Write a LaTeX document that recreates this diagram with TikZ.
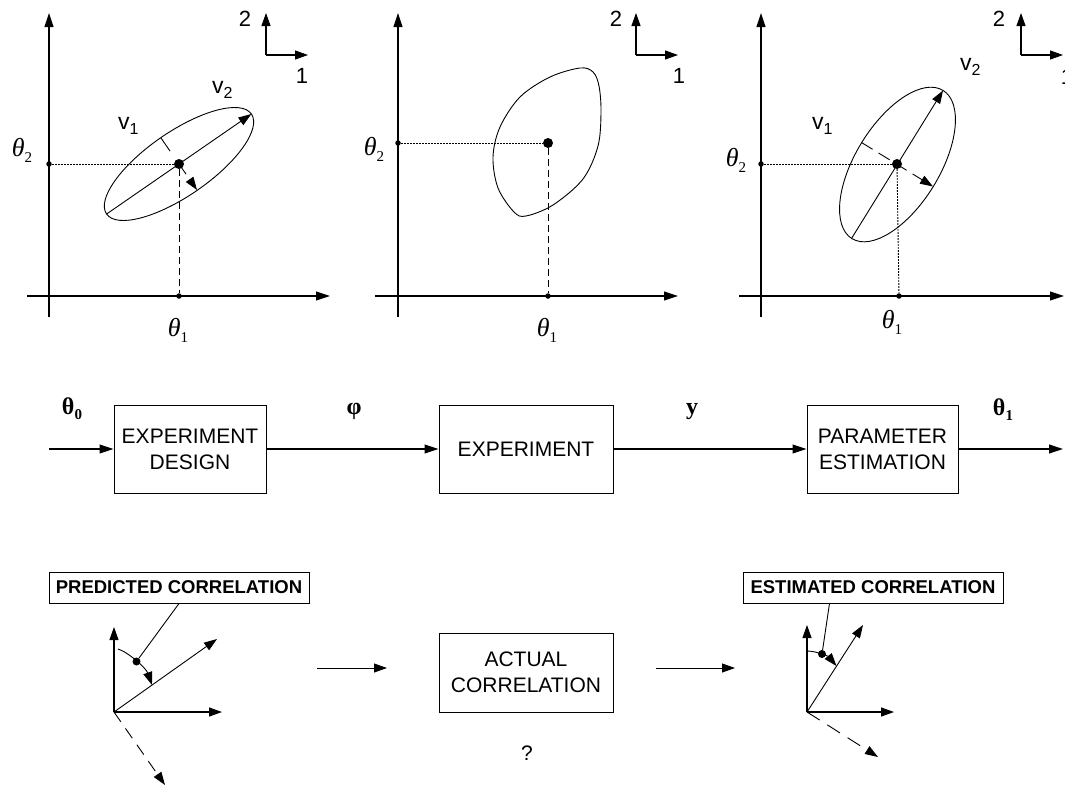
\documentclass[tikz,border=0pt]{standalone}
\usepackage{fontspec}
\setmainfont{Liberation Sans}
\newfontfamily\tnr{Liberation Serif}
\usetikzlibrary{arrows.meta,calc}

% italic theta with an upright subscript (axis labels)
\newcommand{\thsub}[1]{{\tnr\itshape\fontsize{26}{26}\selectfont θ}\raisebox{-6pt}{\tnr\fontsize{15}{15}\selectfont #1}}
% bold theta with a bold subscript (signal labels)
\newcommand{\bthsub}[1]{{\tnr\bfseries\fontsize{24}{24}\selectfont θ}\raisebox{-5pt}{\tnr\bfseries\fontsize{15}{15}\selectfont #1}}
% eigenvector label v_i
\newcommand{\vsub}[1]{{\fontsize{23}{23}\selectfont v}\raisebox{-5pt}{\fontsize{16}{16}\selectfont #1}}

\tikzset{
  ax/.style={line width=1.1pt,-{Triangle[length=14pt,width=9pt]}},
  frm/.style={line width=1.1pt,-{Triangle[length=13pt,width=9pt]}},
  contour/.style={line width=0.9pt},
  vec/.style={line width=0.9pt,-{Triangle[length=13pt,width=9pt]}},
  fineDots/.style={line width=0.9pt,dash pattern=on 1.6pt off 1.4pt},
  longDash/.style={line width=1pt,dash pattern=on 7pt off 4pt},
  bigdot/.style={circle,fill,inner sep=0pt,minimum size=10pt},
  smalldot/.style={circle,fill,inner sep=0pt,minimum size=5.5pt},
  lbl/.style={inner sep=0pt},
  numlbl/.style={inner sep=0pt,font=\fontsize{22}{22}\selectfont},
  stage/.style={draw,line width=1pt,align=center,inner sep=0pt,
    font=\fontsize{21}{26}\selectfont,minimum height=88pt},
  flow/.style={line width=1.1pt,-{Triangle[length=14pt,width=9pt]}},
  tag/.style={draw,line width=1pt,inner sep=0pt,minimum height=31pt,
    font=\bfseries\fontsize{18.5}{18.5}\selectfont},
  sig/.style={inner sep=0pt,font=\tnr\bfseries\fontsize{24}{24}\selectfont},
}

\begin{document}
\begin{tikzpicture}[x=1pt,y=-1pt]
\useasboundingbox (0,0) rectangle (1065,787);

%% ---------------- plot 1: predicted confidence ellipse ----------------
\coordinate (p1yb) at (49,317);  \coordinate (p1yt) at (49,13);
\coordinate (p1xl) at (27,296);  \coordinate (p1xr) at (330,296);
\draw[ax] (p1yb) -- (p1yt);
\draw[ax] (p1xl) -- (p1xr);
\coordinate (p1c) at (179,164);
\draw[contour,rotate around={34.6:(p1c)}] (p1c) ellipse [x radius=88, y radius=32];
\coordinate (p1ma) at (106.6,214);  \coordinate (p1mb) at (251.4,114);
\draw[vec] (p1ma) -- (p1mb);
\coordinate (p1na) at (161,138);  \coordinate (p1nb) at (197,190);
\draw[vec,dash pattern=on 16pt off 12pt] (p1na) -- (p1nb);
\node[smalldot] (p1t2) at (49,164) {};
\node[smalldot] (p1t1) at (179,296) {};
\node[bigdot] (p1dot) at (p1c) {};
\draw[fineDots] (p1t2) -- (p1dot);
\draw[longDash] (p1dot) -- (p1t1);
\node[lbl] (p1th2) at (22,150) {\thsub{2}};
\node[lbl] (p1th1) at (178,330) {\thsub{1}};
\node[lbl,anchor=base west] (p1v1) at (118,129) {\vsub{1}};
\node[lbl,anchor=base west] (p1v2) at (212,93) {\vsub{2}};
% reference frame 1-2
\coordinate (f1o) at (266,55); \coordinate (f1u) at (266,13); \coordinate (f1r) at (308,55);
\draw[frm] (f1o) -- (f1u);
\draw[frm] (f1o) -- (f1r);
\node[numlbl] (f1n2) at (245,19) {2};
\node[numlbl] (f1n1) at (302,76) {1};

%% ---------------- plot 2: actual confidence region ----------------
\coordinate (p2yb) at (398,317);  \coordinate (p2yt) at (398,13);
\coordinate (p2xl) at (375,296);  \coordinate (p2xr) at (678,296);
\draw[ax] (p2yb) -- (p2yt);
\draw[ax] (p2xl) -- (p2xr);
\draw[contour] plot[smooth cycle,tension=0.55] coordinates {
  (580,68) (593,72) (599,86) (601,112) (598,146) (583,179) (553,205)
  (526,216) (514,212) (498,188) (493,157) (500,127) (520,97) (550,77)};
\node[smalldot] (p2t2) at (398,143) {};
\node[smalldot] (p2t1) at (548,296) {};
\node[bigdot] (p2dot) at (548,143) {};
\draw[fineDots] (p2t2) -- (p2dot);
\draw[longDash] (p2dot) -- (p2t1);
\node[lbl] (p2th2) at (374,149) {\thsub{2}};
\node[lbl] (p2th1) at (547,330) {\thsub{1}};
\coordinate (f2o) at (636,55); \coordinate (f2u) at (636,13); \coordinate (f2r) at (678,55);
\draw[frm] (f2o) -- (f2u);
\draw[frm] (f2o) -- (f2r);
\node[numlbl] (f2n2) at (616,19) {2};
\node[numlbl] (f2n1) at (679,76) {1};

%% ---------------- plot 3: estimated confidence ellipse ----------------
\coordinate (p3yb) at (761,317);  \coordinate (p3yt) at (761,13);
\coordinate (p3xl) at (739,296);  \coordinate (p3xr) at (1064,296);
\draw[ax] (p3yb) -- (p3yt);
\draw[ax] (p3xl) -- (p3xr);
\coordinate (p3c) at (897.5,164.5);
\draw[contour,rotate around={58.4:(p3c)}] (p3c) ellipse [x radius=87, y radius=42];
\coordinate (p3ma) at (851.5,238.5);  \coordinate (p3mb) at (943,90.5);
\draw[vec] (p3ma) -- (p3mb);
\coordinate (p3na) at (861.5,142.5);  \coordinate (p3nb) at (933,186.5);
\draw[vec,dash pattern=on 13pt off 7pt] (p3na) -- (p3nb);
\node[smalldot] (p3t2) at (761,164) {};
\node[smalldot] (p3t1) at (899,296) {};
\node[bigdot] (p3dot) at (897,164) {};
\draw[fineDots] (p3t2) -- (p3dot);
\draw[fineDots] (p3dot) -- (p3t1);
\node[lbl] (p3th2) at (736,160) {\thsub{2}};
\node[lbl] (p3th1) at (892,322) {\thsub{1}};
\node[lbl,anchor=base west] (p3v1) at (812,129) {\vsub{1}};
\node[lbl,anchor=base west] (p3v2) at (960,70) {\vsub{2}};
\coordinate (f3o) at (1021,55); \coordinate (f3u) at (1021,13); \coordinate (f3r) at (1063,55);
\draw[frm] (f3o) -- (f3u);
\draw[frm] (f3o) -- (f3r);
\node[numlbl] (f3n2) at (999,19) {2};
\node[numlbl] (f3n1) at (1067,77) {1};

%% ---------------- middle row: processing chain ----------------
\node[stage,minimum width=152pt] (design) at (190,449) {EXPERIMENT\\DESIGN};
\node[stage,minimum width=174pt] (exper)  at (526,449) {EXPERIMENT};
\node[stage,minimum width=151pt] (estim)  at (882.5,449) {PARAMETER\\ESTIMATION};
\coordinate (chainin) at (49,449);
\coordinate (chainout) at (1063,449);
\draw[flow] (chainin) -- (design);
\draw[flow] (design) -- (exper);
\draw[flow] (exper) -- (estim);
\draw[flow] (estim) -- (chainout);
\node[lbl] (sth0) at (72,409) {\bthsub{0}};
\node[sig] (sphi) at (354,411) {φ};
\node[sig] (sy) at (692,412) {y};
\node[lbl] (sth1) at (1003,410) {\bthsub{1}};

%% ---------------- bottom row: correlation of the axes ----------------
% predicted
\node[tag,minimum width=260pt] (predtag) at (179,587.5) {PREDICTED CORRELATION};
\coordinate (po) at (114,712);
\coordinate (pu) at (114,627);
\coordinate (pr) at (222,712);
\coordinate (pd) at (217,639);
\coordinate (pn) at (165,785);
\draw[vec,line width=1.1pt] (po) -- (pu);
\draw[vec,line width=1.1pt] (po) -- (pr);
\draw[vec] (po) -- (pd);
\draw[vec,dash pattern=on 12pt off 8pt] (po) -- (pn);
\coordinate (pas) at (118,649);
\coordinate (pae) at (152,685);
\draw[vec] (pas) .. controls (128,652) and (146,668) .. (pae);
\node[circle,fill,inner sep=0pt,minimum size=8pt] (pdot) at (136.5,661.5) {};
\draw[line width=0.9pt] (predtag.south) -- (pdot);

% actual
\node[stage,minimum width=174pt,minimum height=79pt] (actual) at (526,672.5) {ACTUAL\\CORRELATION};
\coordinate (a1s) at (317,668); \coordinate (a1e) at (387,668);
\coordinate (a2s) at (656,668); \coordinate (a2e) at (735,668);
\draw[vec] (a1s) -- (a1e);
\draw[vec] (a2s) -- (a2e);
\node[lbl,font=\fontsize{21}{21}\selectfont] (qmark) at (527,753) {?};

% estimated
\node[tag,minimum width=260pt] (esttag) at (873,587.5) {ESTIMATED CORRELATION};
\coordinate (eo) at (807,712);
\coordinate (eu) at (807,625);
\coordinate (er) at (894,712);
\coordinate (ed) at (863,625);
\coordinate (en) at (878,757);
\draw[vec,line width=1.1pt] (eo) -- (eu);
\draw[vec,line width=1.1pt] (eo) -- (er);
\draw[vec] (eo) -- (ed);
\draw[vec,dash pattern=on 15pt off 9pt] (eo) -- (en);
\coordinate (eas) at (807,651);
\coordinate (eae) at (836.5,666);
\draw[vec] (eas) .. controls (817,651) and (829,657) .. (eae);
\node[circle,fill,inner sep=0pt,minimum size=8pt] (edot) at (822,654) {};
\draw[line width=0.9pt] ([xshift=87pt]esttag.south west) -- (edot);
\end{tikzpicture}
\end{document}
